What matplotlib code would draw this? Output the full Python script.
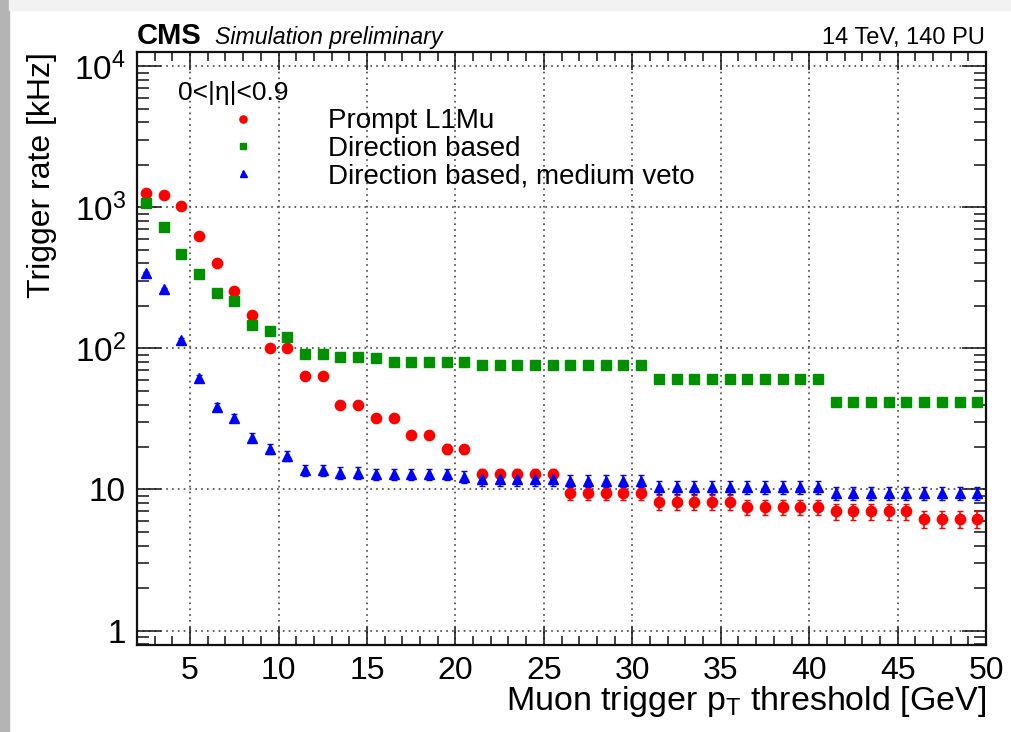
import matplotlib

matplotlib.use("Agg")
import matplotlib.pyplot as plt
from matplotlib.lines import Line2D
from matplotlib.patches import Rectangle
from matplotlib.ticker import FixedLocator, LogLocator, MultipleLocator, NullFormatter

# muon trigger pT thresholds (bin centres) [GeV]
pt_thresholds = [
    2.5, 3.5, 4.5, 5.5, 6.5, 7.5, 8.5, 9.5, 10.5, 11.5, 12.5, 13.5, 14.5, 15.5,
    16.5, 17.5, 18.5, 19.5, 20.5, 21.5, 22.5, 23.5, 24.5, 25.5, 26.5, 27.5, 28.5,
    29.5, 30.5, 31.5, 32.5, 33.5, 34.5, 35.5, 36.5, 37.5, 38.5, 39.5, 40.5, 41.5,
    42.5, 43.5, 44.5, 45.5, 46.5, 47.5, 48.5, 49.5,
]

# trigger rates [kHz]
prompt_rate = (
    [1260, 1230, 1015, 625, 400, 256, 173, 100, 100, 64, 64, 40, 40, 32, 32,
     24.4, 24.4, 19.4, 19.3]
    + [12.8] * 5 + [9.4] * 5 + [8.1] * 5 + [7.5] * 5 + [7.0] * 5 + [6.2] * 4
)
prompt_err = (
    [12, 12, 11, 9, 7, 5.5, 4.5, 3.5, 3.5, 2.8, 2.8, 2.2, 2.2, 2.0, 2.0,
     1.7, 1.7, 1.5, 1.5]
    + [1.2] * 5 + [1.05] * 5 + [1.0] * 5 + [0.95] * 5 + [0.9] * 5 + [0.85] * 4
)

direction_rate = (
    [1080, 720, 464, 337, 247, 215, 147, 132, 120, 90.5, 90.5, 87.5, 87.5, 85]
    + [80] * 5 + [76] * 10 + [61] * 10 + [41.4] * 9
)
direction_err = (
    [11, 9, 7.5, 6.4, 5.4, 5.0, 4.2, 4.0, 3.8, 3.3, 3.3, 3.2, 3.2, 3.2]
    + [3.1] * 5 + [3.0] * 10 + [2.7] * 10 + [2.2] * 9
)

veto_rate = (
    [341, 263, 114, 62, 38.6, 32, 23.3, 19.4, 17.4, 13.7, 13.7, 13.1, 13.1]
    + [12.8] * 5 + [12.3] + [11.8] * 5 + [11.5] * 5 + [10.4] * 10 + [9.4] * 9
)
veto_err = (
    [6.4, 5.6, 3.7, 2.7, 2.2, 2.0, 1.7, 1.5, 1.4, 1.3, 1.3, 1.25, 1.25]
    + [1.2] * 5 + [1.2] + [1.2] * 5 + [1.15] * 5 + [1.1] * 10 + [1.05] * 9
)

series_labels = ["Prompt L1Mu", "Direction based", "Direction based, medium veto"]
series_colors = ["#ff0000", "#009000", "#0000ff"]
series_markers = ["o", "s", "^"]

y_ticks = [1, 10, 100, 1000, 10000]
y_tick_labels = ["1", "10", "$10^2$", "$10^3$", "$10^4$"]
x_ticks = [5, 10, 15, 20, 25, 30, 35, 40, 45, 50]

plt.rcParams["font.family"] = ["Liberation Sans", "DejaVu Sans"]
plt.rcParams["mathtext.fontset"] = "custom"
plt.rcParams["mathtext.rm"] = "Liberation Sans"
plt.rcParams["mathtext.it"] = "Liberation Sans:italic"
plt.rcParams["mathtext.bf"] = "Liberation Sans:bold"

fig = plt.figure(figsize=(10.12, 7.32), dpi=100)
# grey edge of the screenshot card
fig.patches.append(Rectangle((0, 0), 0.009, 1, transform=fig.transFigure,
                             color="#b4b4b4", zorder=0))
fig.patches.append(Rectangle((0.009, 0.986), 0.991, 0.014, transform=fig.transFigure,
                             color="#f2f2f2", zorder=0))

ax = fig.add_axes([0.1354, 0.1189, 0.839, 0.810])

all_rates = [prompt_rate, direction_rate, veto_rate]
all_errs = [prompt_err, direction_err, veto_err]
marker_sizes = [7.4, 6.8, 7.2]
for rate, err, color, marker, size in zip(all_rates, all_errs, series_colors,
                                          series_markers, marker_sizes):
    ax.errorbar(pt_thresholds, rate, yerr=err, fmt=marker, color=color,
                markersize=size, elinewidth=1.2, capsize=2, zorder=3)

ax.set_yscale("log")
ax.set_xlim(2, 50)
ax.set_ylim(0.79, 1.26e4)

ax.xaxis.set_major_locator(FixedLocator(x_ticks))
ax.xaxis.set_minor_locator(MultipleLocator(1))
ax.yaxis.set_major_locator(FixedLocator(y_ticks))
ax.set_yticklabels(y_tick_labels)
ax.yaxis.set_minor_locator(LogLocator(base=10, subs=range(2, 10)))
ax.yaxis.set_minor_formatter(NullFormatter())

ax.tick_params(axis="both", which="both", direction="in", top=True, right=True,
               width=1.1, color="#111111")
ax.tick_params(axis="x", which="major", length=13, labelsize=23, pad=8)
ax.tick_params(axis="x", which="minor", length=6.5)
ax.tick_params(axis="y", which="major", length=17, labelsize=24, pad=8)
ax.tick_params(axis="y", which="minor", length=8.5)

ax.grid(True, which="major", color="#444444", linestyle=(0, (1, 2.5)), linewidth=1.2)
for spine in ax.spines.values():
    spine.set_linewidth(1.6)
    spine.set_color("#111111")

ax.set_xlabel(r"Muon trigger p$_{\mathrm{T}}$ threshold [GeV]", fontsize=24.5, ha="right")
ax.xaxis.set_label_coords(1.0, -0.066)
ax.set_ylabel("Trigger rate [kHz]", fontsize=23, ha="right")
ax.yaxis.set_label_coords(-0.094, 1.0)

ax.text(0.048, 0.931, "0<|η|<0.9", transform=ax.transAxes, fontsize=19, va="center")
legend_handles = [
    Line2D([], [], linestyle="none", marker=m, color=c, markersize=s * 0.7)
    for m, c, s in zip(series_markers, series_colors, marker_sizes)
]
ax.legend(legend_handles, series_labels, loc="upper left", bbox_to_anchor=(0.108, 0.905),
          frameon=False, fontsize=20, handlelength=1.0, handletextpad=2.56,
          borderpad=0, borderaxespad=0, labelspacing=0.05)

fig.text(0.1354, 0.94, "CMS", fontsize=21, fontweight="bold", va="baseline")
fig.text(0.2125, 0.94, "Simulation preliminary", fontsize=16.7, style="italic",
         va="baseline")
fig.text(0.973, 0.94, "14 TeV, 140 PU", fontsize=17, ha="right", va="baseline")

fig.savefig("out.png", dpi=100)
